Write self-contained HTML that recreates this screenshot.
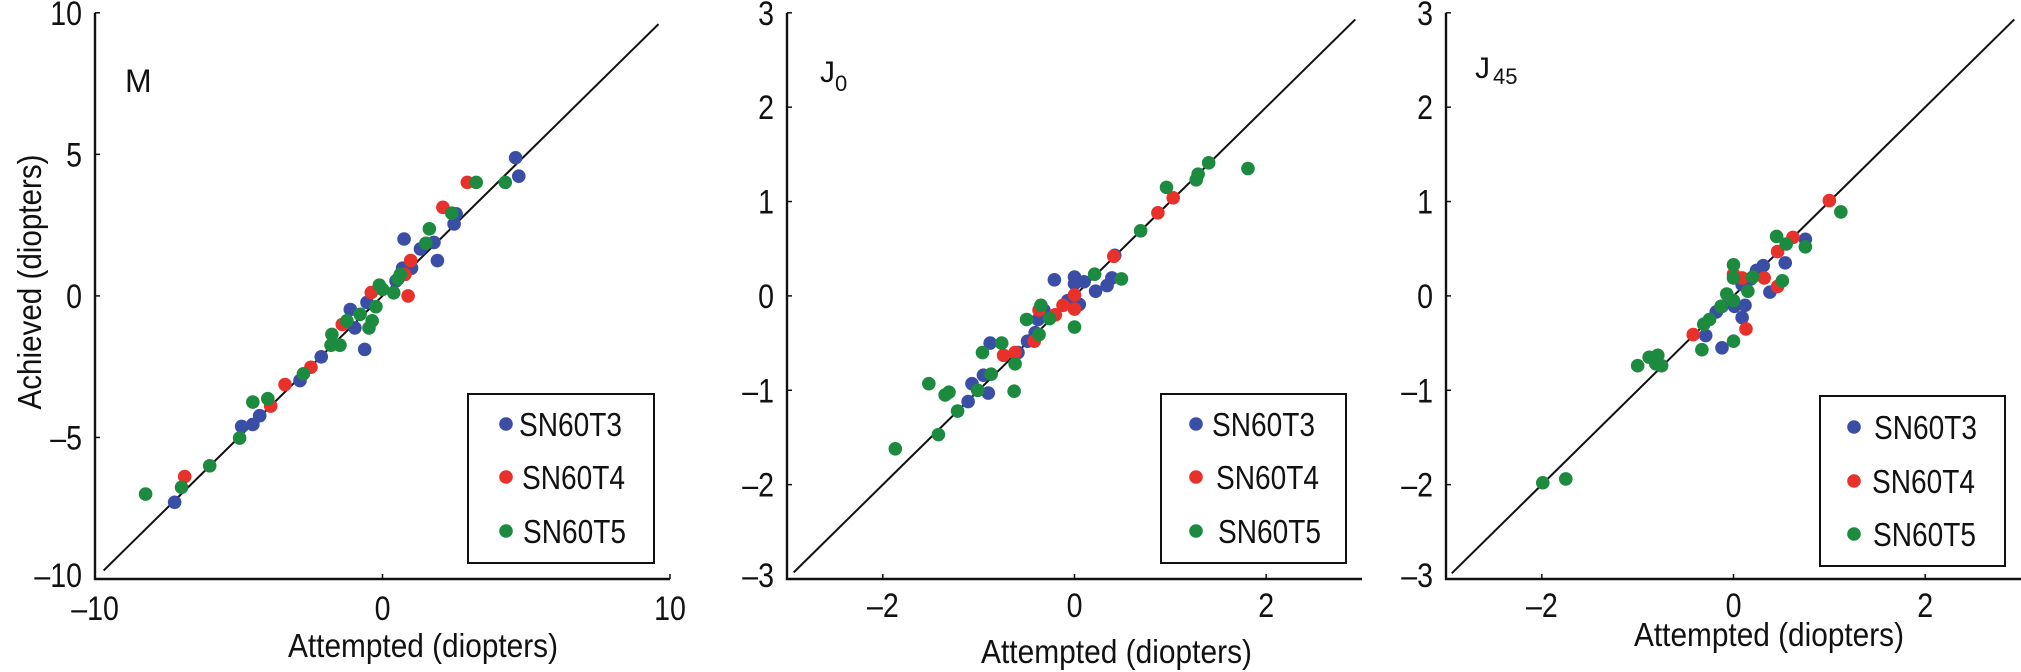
<!DOCTYPE html>
<html><head><meta charset="utf-8"><style>
html,body{margin:0;padding:0;background:#fff;}
svg{display:block;font-family:"Liberation Sans",sans-serif;}
</style></head><body>
<svg id="chart" width="2021" height="672" viewBox="0 0 2021 672" xmlns="http://www.w3.org/2000/svg"></svg>
<script>
const seriesNames=["SN60T3","SN60T4","SN60T5"];
const seriesColors=["#3a4ea6","#e8312b","#1c8a3f"];
// Panel M
const mBlueX=[4.63,4.74,2.49,2.56,0.75,1.79,1.32,1.91,1.01,0.70,0.47,-0.54,-1.12,-0.96,-0.62,-2.13,-2.87,-4.27,-4.51,-4.90,-7.23];
const mBlueY=[4.88,4.23,2.54,2.90,2.01,1.89,1.66,1.25,0.98,0.98,0.53,-0.23,-0.48,-1.13,-1.89,-2.15,-2.99,-4.23,-4.54,-4.61,-7.29];
const mRedX=[2.95,2.10,0.98,0.78,0.89,-0.39,-1.40,-2.49,-3.39,-3.89,-6.88];
const mRedY=[4.01,3.13,1.25,0.76,0.0,0.12,-1.01,-2.52,-3.13,-3.89,-6.38];
const mGreenX=[3.26,4.27,2.41,1.63,1.51,0.62,0.54,0.39,-0.11,0,-0.23,-0.78,-0.36,-0.47,-1.24,-1.76,-1.79,-1.48,-2.75,-3.99,-4.51,-4.97,-6.01,-6.99,-8.24];
const mGreenY=[4.01,4.01,2.92,2.37,1.86,0.76,0.60,0.11,0.38,0.23,-0.38,-0.65,-0.88,-1.13,-0.88,-1.36,-1.74,-1.74,-2.75,-3.63,-3.75,-5.02,-6.00,-6.76,-7.00];
// Panel J0
const j0BlueX=[-0.21,0,0,0.10,0.22,0.34,0.39,0.42,-0.07,0.05,-0.32,-0.38,-0.41,-0.49,-0.59,-0.88,-0.95,-1.07,-0.90,-1.11];
const j0BlueY=[0.17,0.20,0.13,0.15,0.05,0.11,0.19,0.43,-0.05,-0.09,-0.15,-0.25,-0.39,-0.48,-0.60,-0.50,-0.84,-0.93,-1.03,-1.12];
const j0RedX=[1.03,0.87,0.41,0,0,-0.12,-0.20,-0.37,-0.42,-0.62,-0.74];
const j0RedY=[1.04,0.88,0.42,0.01,-0.14,-0.10,-0.20,-0.15,-0.48,-0.60,-0.63];
const j0GreenX=[1.81,1.40,1.29,1.27,0.96,0.69,0.49,0.21,0,-0.35,-0.26,-0.50,-0.37,-0.76,-0.96,-0.62,-0.87,-0.63,-1.01,-1.31,-1.35,-1.52,-1.22,-1.42,-1.87];
const j0GreenY=[1.35,1.41,1.29,1.23,1.15,0.69,0.18,0.23,-0.33,-0.10,-0.24,-0.25,-0.41,-0.50,-0.60,-0.72,-0.83,-1.01,-1.00,-1.02,-1.05,-0.93,-1.22,-1.47,-1.62];
// Panel J45
const j45BlueX=[0.75,0.54,0.31,0.24,0.18,0.09,0.38,0.12,0.01,0.09,-0.12,-0.18,-0.29,-0.12];
const j45BlueY=[0.60,0.35,0.32,0.27,0.18,0.12,0.04,-0.10,-0.11,-0.23,-0.11,-0.17,-0.42,-0.55];
const j45RedX=[1.00,0.62,0.46,0.32,0.46,0.09,0,0.13,-0.42];
const j45RedY=[1.01,0.62,0.47,0.19,0.10,0.19,0.23,-0.35,-0.41];
const j45GreenX=[1.12,0.75,0.45,0.55,0.51,0,0,0.20,0.15,-0.07,0,-0.13,-0.25,-0.31,-0.33,0,-0.79,-0.88,-0.81,-0.75,-1.00,-1.75,-1.99];
const j45GreenY=[0.89,0.52,0.63,0.55,0.16,0.33,0.19,0.20,0.05,0.02,-0.05,-0.11,-0.25,-0.30,-0.57,-0.48,-0.63,-0.65,-0.72,-0.74,-0.74,-1.94,-1.98];
const mTicksX=[-10,0,10], mTicksY=[-10,-5,0,5,10];
const jTicksX=[-2,0,2], jTicksY=[-3,-2,-1,0,1,2,3];

const NS="http://www.w3.org/2000/svg";
const svg=document.getElementById('chart');
function mk(tag,attrs,parent){const e=document.createElementNS(NS,tag);for(const k in attrs)e.setAttribute(k,attrs[k]);(parent||svg).appendChild(e);return e;}
function lbl(n){return n<0?"\u2013"+Math.abs(n):String(n);}

const panels=[
 {key:"m",x0:95,x1:670,min:-10,max:10,tx:mTicksX,ty:mTicksY,diag:[-9.7,9.6],
  data:[[mBlueX,mBlueY],[mRedX,mRedY],[mGreenX,mGreenY]],
  leg:{x:468,y:394,w:186,h:169,dot:506,txt:[519,522,523],rows:[424,477,531]},
  xl:{x:288,y:657,len:270},tickBase:620},
 {key:"j0",x0:787,x1:1362,min:-3,max:3,tx:jTicksX,ty:jTicksY,diag:[-2.93,2.93],
  data:[[j0BlueX,j0BlueY],[j0RedX,j0RedY],[j0GreenX,j0GreenY]],
  leg:{x:1161,y:394,w:185,h:169,dot:1196,txt:[1212,1216,1218],rows:[424,477,531]},
  xl:{x:981,y:663,len:271},tickBase:617},
 {key:"j45",x0:1446,x1:2021,min:-3,max:3,tx:jTicksX,ty:jTicksY,diag:[-2.94,2.93],
  data:[[j45BlueX,j45BlueY],[j45RedX,j45RedY],[j45GreenX,j45GreenY]],
  leg:{x:1820,y:396,w:185,h:170,dot:1854,txt:[1874,1872,1873],rows:[427,481,534]},
  xl:{x:1634,y:646,len:270},tickBase:617}
];
const yTop=12.8,yBot=579;

panels.forEach(p=>{
  const g=mk('g',{});
  
  
  const xs=v=>p.x0+(v-p.min)/(p.max-p.min)*(p.x1-p.x0);
  const ys=v=>yBot-(v-p.min)/(p.max-p.min)*(yBot-yTop);
  const ax=mk('path',{d:`M${p.x0},${yTop}V${yBot}H${p.x1}`,fill:'none',stroke:'#111','stroke-width':2.4},g);
  
  
  p.tx.forEach(t=>{
    const x=xs(t);
    const tk=mk('line',{x1:x,x2:x,y1:yBot,y2:yBot-5,stroke:'#111','stroke-width':1.5},g);
    
    
    const tg=mk('g',{transform:`translate(${x},${p.tickBase}) scale(0.84,1)`},g);
    const t1=mk('text',{x:0,y:0,'font-size':34,'text-anchor':'middle',fill:'#111'},tg);
    t1.textContent=lbl(t);
    
    
  });
  p.ty.forEach((t,i)=>{
    const y=ys(t);
    const tk=mk('line',{x1:p.x0,x2:p.x0+5,y1:y,y2:y,stroke:'#111','stroke-width':1.5},g);
    
    
    const base=i===0?y+8:y+12;
    const tg=mk('g',{transform:`translate(${p.x0-13},${base}) scale(0.84,1)`},g);
    const t1=mk('text',{x:0,y:0,'font-size':34,'text-anchor':'end',fill:'#111'},tg);
    t1.textContent=lbl(t);
    
    
  });
  const d=mk('line',{x1:xs(p.diag[0]),y1:ys(p.diag[0]),x2:xs(p.diag[1]),y2:ys(p.diag[1]),stroke:'#111','stroke-width':2},g);
  
  
  p.data.forEach((s,si)=>{
    s[0].forEach((xv,i)=>{
      const c=mk('circle',{cx:xs(xv),cy:ys(s[1][i]),r:6.8,fill:seriesColors[si]},g);
      
      
    });
  });
  const xl=mk('text',{x:p.xl.x,y:p.xl.y,'font-size':33,textLength:p.xl.len,lengthAdjust:'spacingAndGlyphs',fill:'#111'},g);
  xl.textContent='Attempted (diopters)';
  
  
  const L=p.leg;
  const lg=mk('g',{},g);
  
  
  mk('rect',{x:L.x,y:L.y,width:L.w,height:L.h,fill:'#fff',stroke:'#111','stroke-width':2},lg);
  seriesNames.forEach((n,i)=>{
    const eg=mk('g',{},lg);
    
    
    mk('circle',{cx:L.dot,cy:L.rows[i],r:6.8,fill:seriesColors[i]},eg);
    const t=mk('text',{x:L.txt[i],y:L.rows[i]+12,'font-size':33,textLength:103,lengthAdjust:'spacingAndGlyphs',fill:'#111'},eg);
    t.textContent=n;
  });
});
</script>
<svg style="position:absolute;left:0;top:0" width="2021" height="672">
  <text x="13" y="268" font-size="33" fill="#111" transform="rotate(-90 27 268)" text-anchor="middle" textLength="255" lengthAdjust="spacingAndGlyphs" font-family="Liberation Sans, sans-serif" dx="0" dy="14">Achieved (diopters)</text>
  <text x="125" y="92" font-size="32" fill="#111" font-family="Liberation Sans, sans-serif">M</text>
  <text x="820" y="82" font-size="30" fill="#111" font-family="Liberation Sans, sans-serif">J<tspan font-size="22" dy="9">0</tspan></text>
  <text x="1475" y="78" font-size="30" fill="#111" font-family="Liberation Sans, sans-serif">J<tspan font-size="22" dx="3" dy="6">45</tspan></text>
</svg>
</body></html>
